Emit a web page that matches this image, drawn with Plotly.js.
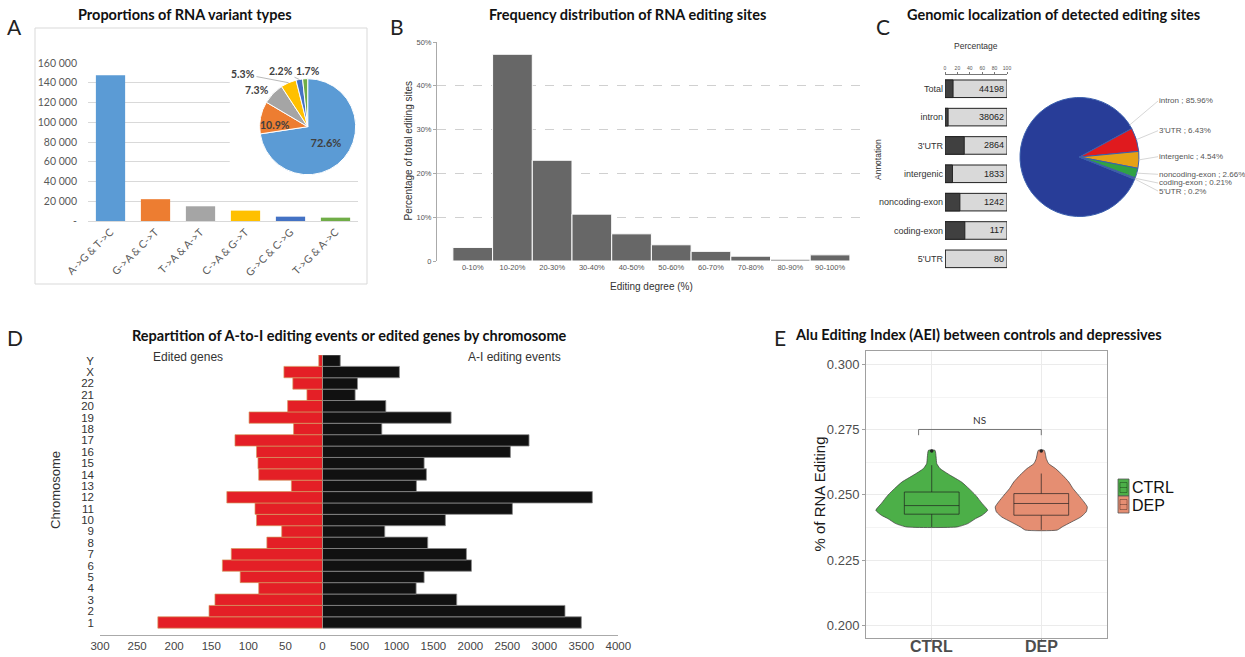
<!DOCTYPE html>
<html><head><meta charset="utf-8">
<script src="https://cdn.plot.ly/plotly-3.0.1.min.js"></script>
<style>html,body{margin:0;padding:0;background:#fff}#chart{width:1245px;height:657px}</style>
</head><body><div id="chart"></div>
<script>
// ---------- DATA ----------
// Panel A
const variantTypes = ['A->G & T->C','G->A & C->T','T->A & A->T','C->A & G->T','G->C & C->G','T->G & A->C'];
const variantCounts = [147500, 22100, 14900, 10500, 4400, 3400];
const variantPct = [72.6, 10.9, 7.3, 5.3, 2.2, 1.7];
const variantColors = ['#5b9bd5','#ed7d31','#a5a5a5','#ffc000','#4472c4','#70ad47'];
const countTickVals = [0,20000,40000,60000,80000,100000,120000,140000,160000];
const countTickText = ['-','20 000','40 000','60 000','80 000','100 000','120 000','140 000','160 000'];
// Panel B
const degreeBins = ['0-10%','10-20%','20-30%','30-40%','40-50%','50-60%','60-70%','70-80%','80-90%','90-100%'];
const degreePct = [3.1, 47.2, 23.0, 10.7, 6.2, 3.7, 2.2, 1.1, 0.4, 1.4];
const pctTickVals = [0,10,20,30,40,50];
const pctTickText = ['0','10%','20%','30%','40%','50%'];
// Panel C
const annotCats = ['Total','intron',"3'UTR",'intergenic','noncoding-exon','coding-exon',"5'UTR"];
const annotCounts = [44198, 38062, 2864, 1833, 1242, 117, 80];
const annotDarkPct = [13, 5, 31, 12, 24, 32, 0];
const smallTickVals = [0,20,40,60,80,100];
const locLabels = ['intron',"3'UTR",'intergenic','noncoding-exon','coding-exon',"5'UTR"];
const locPct = [85.96, 6.43, 4.54, 2.66, 0.21, 0.2];
const locColors = ['#283d98','#e01a1e','#e6a115','#30a244','#d9541e','#b8560b'];
// Panel D
const chromosomes = ['1','2','3','4','5','6','7','8','9','10','11','12','13','14','15','16','17','18','19','20','21','22','X','Y'];
const editedGenes = [222,153,145,86,111,135,123,75,55,89,91,129,42,86,87,89,118,39,99,47,21,40,52,5];
const editingEvents = [3500,3279,1815,1266,1374,2014,1946,1423,842,1662,2568,3649,1270,1405,1374,2541,2793,802,1739,856,441,473,1040,240];
const genesTicks = [300,250,200,150,100,50,0];
const eventsTicks = [500,1000,1500,2000,2500,3000,3500,4000];
// Panel E
const groups = ['CTRL','DEP'];
const groupColors = ['#4caf48','#e58e72'];
const ctrlLevels = [0.2377,0.2390,0.2409,0.2422,0.2441,0.2467,0.2499,0.2524,0.2550,0.2575,0.2601,0.2620,0.2645,0.2671];
const ctrlHalfWidth = [0.23,0.33,0.40,0.46,0.51,0.46,0.40,0.34,0.27,0.17,0.076,0.046,0.040,0.030];
const depLevels = [0.2365,0.2377,0.2396,0.2415,0.2435,0.2454,0.2473,0.2499,0.2524,0.2550,0.2575,0.2601,0.2620,0.2639,0.2671];
const depHalfWidth = [0.145,0.19,0.275,0.36,0.41,0.42,0.39,0.34,0.29,0.25,0.196,0.13,0.067,0.046,0.027];
const boxLower = [0.2377, 0.2366];
const boxQ1 = [0.2426, 0.2422];
const boxMedian = [0.2459, 0.2467];
const boxQ3 = [0.2511, 0.2505];
const boxUpper = [0.2614, 0.2582];
const outlierY = [0.2668, 0.2668];
const aeiTicks = [0.200,0.225,0.250,0.275,0.300];

// ---------- HELPERS ----------
const W = 1245, H = 657;
const X = p => p / W;
const Y = p => 1 - p / H;
const sum = a => a.reduce((s,v)=>s+v,0);
const FA = 'Liberation Sans, Arial, sans-serif';
const FT = 'Lato, Open Sans, sans-serif';

function edgePoint(dom, values, rotation, i, frac) {
  const cx = (dom.x0+dom.x1)/2, cy = (dom.y0+dom.y1)/2;
  const r = Math.min(dom.x1-dom.x0, dom.y1-dom.y0)/2;
  let cum = 0; for (let j=0;j<i;j++) cum += values[j];
  const a = (rotation + (cum + values[i]*frac)/sum(values)*360) * Math.PI/180;
  return {x: cx + r*Math.sin(a), y: cy - r*Math.cos(a)};
}

const pieADom = {x0:259.7, x1:355.7, y0:78.7, y1:174.7};
const pieCDom = {x0:1020, x1:1139, y0:97, y1:217};
const pieCRotation = 112;
const aeiRange = [0.1951, 0.3052];
const grpRange = [-0.6, 1.6];

// ---------- TRACES ----------
const traces = [];
traces.push({type:'bar', x:variantTypes, y:variantCounts, width:0.65,
  marker:{color:variantColors}, xaxis:'x', yaxis:'y', hoverinfo:'skip'});
traces.push({type:'pie', values:variantPct, labels:variantTypes,
  text:variantPct.map(v=>v.toFixed(1)+'%'), textinfo:'text',
  textposition:['inside','none','none','none','none','none'],
  insidetextorientation:'horizontal', sort:false, direction:'clockwise', rotation:0,
  marker:{colors:variantColors, line:{color:'#ffffff', width:1}},
  textfont:{family:FT, size:11, color:'#404040', weight:'bold'},
  insidetextfont:{family:FT, size:11, color:'#404040', weight:'bold'},
  domain:{x:[X(pieADom.x0),X(pieADom.x1)], y:[Y(pieADom.y1),Y(pieADom.y0)]},
  showlegend:false, hoverinfo:'skip'});
traces.push({type:'bar', x:degreeBins, y:degreePct, width:1,
  marker:{color:'#676767', line:{color:'#ffffff', width:1}}, xaxis:'x2', yaxis:'y2', hoverinfo:'skip'});
traces.push({type:'bar', orientation:'h', y:annotCats, x:annotCats.map(()=>100), width:0.62,
  marker:{color:'#d9d9d9', line:{color:'#222', width:1}},
  text:annotCounts.map(String), textposition:'inside', insidetextanchor:'end',
  textfont:{family:FA, size:9, color:'#222'}, xaxis:'x3', yaxis:'y3', hoverinfo:'skip'});
traces.push({type:'bar', orientation:'h', y:annotCats, x:annotDarkPct, width:0.62,
  marker:{color:'#404040', line:{color:'#222', width:1}}, xaxis:'x3', yaxis:'y3', hoverinfo:'skip'});
traces.push({type:'pie', values:locPct, labels:locLabels, textinfo:'none', sort:false,
  direction:'clockwise', rotation:pieCRotation,
  marker:{colors:locColors, line:{color:'#3a5fae', width:1}},
  domain:{x:[X(pieCDom.x0),X(pieCDom.x1)], y:[Y(pieCDom.y1),Y(pieCDom.y0)]},
  showlegend:false, hoverinfo:'skip'});
traces.push({type:'bar', orientation:'h', y:chromosomes, x:editedGenes, width:1,
  marker:{color:'#e41f26', line:{color:'#d49a60', width:0.7}}, xaxis:'x4', yaxis:'y4', hoverinfo:'skip'});
traces.push({type:'bar', orientation:'h', y:chromosomes, x:editingEvents, width:1,
  marker:{color:'#111111', line:{color:'#8a8a8a', width:0.8}}, xaxis:'x5', yaxis:'y4', hoverinfo:'skip'});
// violins (outline)
[[ctrlLevels, ctrlHalfWidth],[depLevels, depHalfWidth]].forEach((d,i)=>{
  const lv = d[0], hw = d[1];
  const xs = lv.map((v,k)=>i+hw[k]).concat(lv.slice().reverse().map((v,k)=>i-hw[hw.length-1-k]));
  const ys = lv.concat(lv.slice().reverse());
  xs.push(xs[0]); ys.push(ys[0]);
  traces.push({type:'scatter', mode:'lines', x:xs, y:ys, fill:'toself', fillcolor:groupColors[i],
    line:{color:'#3a3a3a', width:0.7, shape:'spline', smoothing:0.5}, xaxis:'x6', yaxis:'y6',
    showlegend:false, hoverinfo:'skip'});
});
// boxes on an overlaying axis pair so they sit above the violins
groups.forEach((g,i)=>{
  traces.push({type:'box', x:[i], q1:[boxQ1[i]], median:[boxMedian[i]], q3:[boxQ3[i]],
    lowerfence:[boxLower[i]], upperfence:[boxUpper[i]], width:0.5, whiskerwidth:0,
    fillcolor:groupColors[i], line:{color:'rgba(30,30,30,0.75)', width:0.9},
    boxpoints:false, xaxis:'x7', yaxis:'y7', showlegend:false, hoverinfo:'skip'});
});
traces.push({type:'scatter', mode:'markers', x:groups.map((g,i)=>i), y:outlierY,
  marker:{size:3.5, color:'#222'}, xaxis:'x7', yaxis:'y7', showlegend:false, hoverinfo:'skip'});

// ---------- ANNOTATIONS ----------
const ann = [];
function txt(t, x, y, font, extra) {
  ann.push(Object.assign({text:t, x:X(x), y:Y(y), xref:'paper', yref:'paper', showarrow:false,
    xanchor:'center', yanchor:'middle', font:font}, extra||{}));
}
const titleFont = {family:FT, size:14.5, color:'#111', weight:'bold'};
const letterFont = {family:FT, size:21, color:'#222'};
txt('Proportions of RNA variant types', 185, 15, titleFont);
txt('Frequency distribution of RNA editing sites', 627, 15, titleFont);
txt('Genomic localization of detected editing sites', 1053, 15, titleFont);
txt('Repartition of A-to-I editing events or edited genes by chromosome', 349, 335, titleFont);
txt('Alu Editing Index (AEI) between controls and depressives', 978, 334, titleFont);
txt('A', 14, 27, letterFont); txt('B', 397.5, 27, letterFont); txt('C', 883, 27, letterFont);
txt('D', 14.5, 337, letterFont); txt('E', 780, 337, letterFont);
txt('Percentage of total editing sites', 408.5, 151, {family:FA, size:10, color:'#333'}, {textangle:-90});
txt('Editing degree (%)', 651.5, 286, {family:FA, size:10, color:'#333'});
txt('Percentage', 976, 46, {family:FA, size:8.5, color:'#333'});
txt('Annotation', 878, 160, {family:FA, size:8.5, color:'#333'}, {textangle:-90});
txt('Chromosome', 55, 490, {family:FA, size:13, color:'#333'}, {textangle:-90});
txt('Edited genes', 188, 357, {family:FA, size:12, color:'#333'});
txt('A-I editing events', 514, 357, {family:FA, size:12, color:'#333'});
txt('% of RNA Editing', 818.5, 494, {family:FA, size:15, color:'#1a1a1a'}, {textangle:-90});
// E category labels
groups.forEach((g,i)=>ann.push({text:g, x:i, xref:'x6', y:Y(646.5), yref:'paper', showarrow:false,
  yanchor:'middle', font:{family:FA, size:16, color:'#4d4d4d', weight:'bold'}}));
// pie A labels outside the inside-text slice
const pieALabelPos = {1:{x:275,y:125,arrow:false}, 2:{x:256.7,y:90,arrow:false}, 3:{x:243,y:74,arrow:true}, 4:{x:281,y:71,arrow:true}, 5:{x:307.7,y:71,arrow:false}};
Object.keys(pieALabelPos).forEach(k=>{
  const i = +k, p = pieALabelPos[k];
  const t = variantPct[i].toFixed(1)+'%';
  const f = {family:FT, size:10.5, color:'#404040', weight:'bold'};
  if (p.arrow) {
    const e = edgePoint(pieADom, variantPct, 0, i, 0.5);
    ann.push({text:t, x:X(e.x), y:Y(e.y), xref:'paper', yref:'paper', showarrow:true, arrowhead:0,
      arrowwidth:0.8, arrowcolor:'#a6a6a6', ax:p.x-e.x, ay:p.y-e.y, font:f});
  } else txt(t, p.x, p.y, f);
});
// pie C labels
const pieCLabelY = [101, 130.7, 156.7, 174.3, 183, 191];
const pieCLabelFrac = [0.987, 0.5, 0.5, 0.5, 0.5, 0.5];
locLabels.forEach((l,i)=>{
  const e = edgePoint(pieCDom, locPct, pieCRotation, i, pieCLabelFrac[i]);
  ann.push({text:l+' ; '+locPct[i]+'%', x:X(e.x), y:Y(e.y), xref:'paper', yref:'paper',
    showarrow:true, arrowhead:0, arrowwidth:0.8, arrowcolor:'#cccccc',
    ax:1158-e.x, ay:pieCLabelY[i]-e.y, xanchor:'left', yanchor:'middle', borderpad:0,
    font:{family:FA, size:8, color:'#555'}});
});
// E significance + legend
ann.push({text:'NS', x:0.44, y:0.2786, xref:'x6', yref:'y6', showarrow:false, font:{family:FT, size:10, color:'#333'}});
groups.forEach((g,i)=>txt(g, 1131, 487+18*i, {family:FA, size:16, color:'#111'}, {xanchor:'left', borderpad:0}));

// ---------- SHAPES ----------
const shapes = [
  {type:'rect', xref:'x', yref:'y', x0:2.65, x1:5.55, y0:45000, y1:165000, fillcolor:'#ffffff', line:{width:0}, layer:'between'},
  {type:'rect', xref:'paper', yref:'paper', x0:X(35), x1:X(367), y0:Y(284), y1:Y(28), line:{color:'#d9d9d9', width:1}},
  {type:'path', xref:'x6', yref:'y6', path:'M -0.12,0.2729 L -0.12,0.2751 L 1.0,0.2751 L 1.0,0.2729', line:{color:'#555', width:0.8}}
];
groups.forEach((g,i)=>{
  const y0 = 479+17*i, y1 = 496+17*i;
  shapes.push({type:'rect', xref:'paper', yref:'paper', x0:X(1118), x1:X(1129), y0:Y(y1), y1:Y(y0), fillcolor:groupColors[i], line:{color:'#555', width:0.8}});
  shapes.push({type:'rect', xref:'paper', yref:'paper', x0:X(1120), x1:X(1127), y0:Y(y1-3.5), y1:Y(y0+3.5), line:{color:'rgba(0,0,0,0.45)', width:0.7}});
  shapes.push({type:'line', xref:'paper', yref:'paper', x0:X(1120), x1:X(1127), y0:Y((y0+y1)/2), y1:Y((y0+y1)/2), line:{color:'rgba(0,0,0,0.45)', width:0.7}});
});

// ---------- LAYOUT ----------
const noGrid = {showgrid:false, zeroline:false, fixedrange:true};
const layout = {
  width:W, height:H, margin:{l:0,r:0,t:0,b:0}, paper_bgcolor:'#fff', plot_bgcolor:'#fff',
  showlegend:false, barmode:'overlay', boxmode:'overlay', separators:'. ',
  xaxis: Object.assign({}, noGrid, {domain:[X(88),X(358)], anchor:'y', type:'category', range:[-0.5,5.5],
    tickangle:-45, tickfont:{family:FT, size:10.5, color:'#595959'}, showline:true, linecolor:'#d9d9d9', ticks:''}),
  yaxis: {domain:[Y(221),Y(63)], anchor:'x', range:[0,160000], tickvals:countTickVals, ticktext:countTickText,
    showgrid:true, gridcolor:'#d9d9d9', zeroline:false, showline:false, ticks:'', ticklabelstandoff:10,
    tickfont:{family:FT, size:10.5, color:'#595959'}, fixedrange:true},
  xaxis2: Object.assign({}, noGrid, {domain:[X(437),X(865)], anchor:'y2', type:'category', range:[-0.9,9.88],
    tickfont:{family:FA, size:7.5, color:'#555'}, showline:false, ticks:''}),
  yaxis2: {domain:[Y(261),Y(42)], anchor:'x2', range:[0,50], tickvals:pctTickVals, ticktext:pctTickText,
    showgrid:true, gridcolor:'#c4c4c4', griddash:'dash', gridwidth:0.8, zeroline:false,
    showline:true, linecolor:'#aaa', ticks:'outside', ticklen:3, tickcolor:'#aaa',
    tickfont:{family:FA, size:7.5, color:'#555'}, fixedrange:true},
  xaxis3: Object.assign({}, noGrid, {domain:[X(945),X(1007)], anchor:'y3', side:'top', range:[0,100],
    tickvals:smallTickVals, tickfont:{family:FA, size:5, color:'#555'}, showline:true, linecolor:'#777',
    ticks:'outside', ticklen:2, tickcolor:'#777'}),
  yaxis3: Object.assign({}, noGrid, {domain:[Y(273),Y(74.6)], anchor:'x3', type:'category', autorange:'reversed',
    tickfont:{family:FA, size:9, color:'#333'}, ticks:'', showline:false, ticklabelstandoff:1}),
  xaxis4: Object.assign({}, noGrid, {domain:[X(100),X(322.5)], anchor:'y4', range:[300,0], tickvals:genesTicks,
    tickfont:{family:FA, size:11.5, color:'#444'}, showline:true, linecolor:'#aaa', ticks:''}),
  xaxis5: Object.assign({}, noGrid, {domain:[X(322.5),X(618.3)], anchor:'y4', range:[0,4000], tickvals:eventsTicks,
    tickfont:{family:FA, size:11.5, color:'#444'}, showline:true, linecolor:'#aaa', ticks:''}),
  yaxis4: Object.assign({}, noGrid, {domain:[Y(635),Y(355)], anchor:'x4', type:'category', range:[-1.1,23.5],
    tickmode:'array', tickvals:chromosomes, ticktext:chromosomes,
    tickfont:{family:FA, size:11.5, color:'#333'}, ticks:'', showline:false, ticklabelstandoff:5}),
  xaxis6: {domain:[X(866),X(1107)], anchor:'y6', range:grpRange, tickvals:[0,1], showticklabels:false,
    showgrid:true, gridcolor:'#ebebeb',
    zeroline:false, showline:true, mirror:true, linecolor:'#a0a0a0', ticks:'outside', ticklen:3, tickcolor:'#a0a0a0', fixedrange:true},
  yaxis6: {domain:[Y(638),Y(351)], anchor:'x6', range:aeiRange, tickvals:aeiTicks, tickformat:'.3f',
    tickfont:{family:FA, size:13, color:'#4d4d4d'}, showgrid:true, gridcolor:'#ebebeb',
    minor:{tick0:0.2, dtick:0.0125, showgrid:true, gridcolor:'#f4f4f4'},
    zeroline:false, showline:true, mirror:true, linecolor:'#a0a0a0', ticks:'outside', ticklen:3, tickcolor:'#a0a0a0', fixedrange:true},
  xaxis7: {overlaying:'x6', anchor:'y6', range:grpRange, visible:false, fixedrange:true},
  yaxis7: {overlaying:'y6', anchor:'x6', range:aeiRange, visible:false, fixedrange:true},
  annotations: ann,
  shapes: shapes
};
Plotly.newPlot('chart', traces, layout, {staticPlot:true, displayModeBar:false});
</script></body></html>
